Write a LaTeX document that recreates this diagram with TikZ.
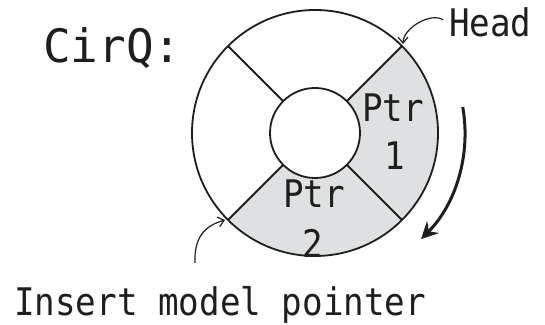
\documentclass[tikz,border=0pt]{standalone}
\usepackage{fontspec}
\usetikzlibrary{arrows.meta,calc}
\newfontfamily\monoN[FakeStretch=0.9]{DejaVu Sans Mono}
\newfontfamily\monoW{DejaVu Sans Mono}
\definecolor{slotfill}{HTML}{DFE0E2}
\definecolor{ink}{HTML}{1E1E1E}
\tikzset{
  ring/.style={draw=ink, line width=1.8pt},
  slot/.style={fill=slotfill},
  lbl/.style={inner sep=0pt, text=ink, font=\monoN\fontsize{38}{40}\selectfont},
  title/.style={inner sep=0pt, text=ink, font=\monoW\fontsize{46}{48}\selectfont},
  pointer/.style={draw=ink, line width=1.2pt, -{Straight Barb[length=6pt,width=10pt,line width=1.2pt]}},
  turn/.style={draw=ink, line width=3pt, -{Stealth[length=17pt,width=17pt,inset=6pt]}}
}
\begin{document}
\begin{tikzpicture}[x=1pt,y=1pt]
  \useasboundingbox (0,0) rectangle (545,324);
  \coordinate (c) at (315,191);
  \def\Rout{123}
  \def\Rin{45}

  % occupied slots
  \fill[slot] ($(c)+(-45:\Rout)$) arc[start angle=-45,end angle=45,radius=\Rout]
     -- ($(c)+(45:\Rin)$) arc[start angle=45,end angle=-45,radius=\Rin] -- cycle;
  \fill[slot] ($(c)+(-135:\Rout)$) arc[start angle=-135,end angle=-45,radius=\Rout]
     -- ($(c)+(-45:\Rin)$) arc[start angle=-45,end angle=-135,radius=\Rin] -- cycle;

  % ring and slot dividers
  \draw[ring] (c) circle[radius=\Rout];
  \draw[ring] (c) circle[radius=\Rin];
  \foreach \a in {45,135,225,315}
    \draw[ring] ($(c)+(\a:\Rin)$) -- ($(c)+(\a:\Rout)$);

  \coordinate (headpt) at ($(c)+(45:\Rout)$);
  \coordinate (inspt) at ($(c)+(225:\Rout)+(-3,0)$);

  % labels
  \node[title, anchor=base west] (cirq) at (43,261) {CirQ:};
  \node[lbl, anchor=base west] (head) at (449,287) {Head};
  \node[lbl, anchor=base] (p1a) at (393,202) {Ptr};
  \node[lbl, anchor=base] (p1b) at (395,154) {1};
  \node[lbl, anchor=base] (p2a) at (314,117) {Ptr};
  \node[lbl, anchor=base] (p2b) at (313,67) {2};
  \node[lbl, anchor=base west] (insert) at (14,9) {Insert model pointer};

  % pointers
  \coordinate (hs) at ($(head.west)+(-6,3)$);
  \draw[pointer] (hs) .. controls ++(-12,8) and ++(0,16) .. ($(headpt)+(1,2)$);
  \coordinate (is) at (195,61);
  \draw[pointer] (is) .. controls (194,86) and (204,98) .. (inspt);

  % direction of travel
  \draw[turn] ($(c)+(10:150)$) arc[start angle=10,end angle=-45,radius=150];
\end{tikzpicture}
\end{document}
